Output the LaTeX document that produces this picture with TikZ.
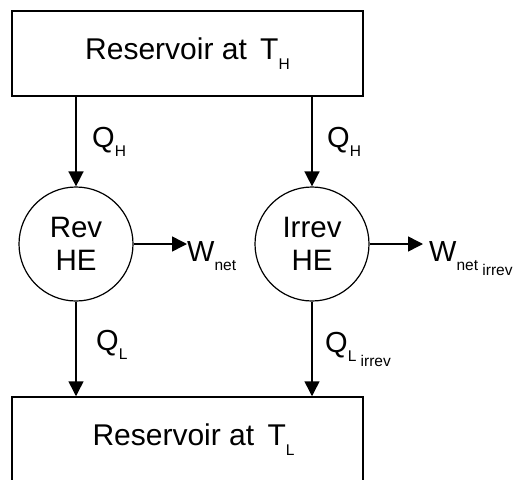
\documentclass[tikz,border=0pt]{standalone}
\usepackage{fontspec}
\setmainfont{Liberation Sans}
\usetikzlibrary{arrows.meta}

% lowered small index, nests for second level
\newcommand{\lo}[1]{\raisebox{-0.6ex}{\fontsize{15.5}{15.5}\selectfont #1}}

\begin{document}
\begin{tikzpicture}[x=1pt, y=-1pt,
        res/.style={draw, line width=1.5pt, minimum width=351pt, minimum height=85pt, inner sep=0pt, font=\fontsize{30}{32}\selectfont},
        he/.style={draw, circle, line width=1.2pt, minimum size=114pt, inner sep=0pt, align=center, font=\fontsize{29.5}{33}\selectfont},
        lab/.style={anchor=base west, inner sep=0pt, font=\fontsize{29}{30}\selectfont},
        flow/.style={-{Triangle[length=15pt,width=15pt]}, line width=1.5pt}
    ]
    \useasboundingbox (0,0) rectangle (521,479);

    % reservoirs
    \node[res] (hot) at (187.5,53.5) {Reservoir at \,T\lo{H}};
    \node[res] (cold) at (187.5,439.5) {\hspace*{12pt}Reservoir at \,T\lo{L}};

    % engines
    \node[he] (rev) at (76,244) {Rev\\HE};
    \node[he] (irr) at (312,244) {Irrev\\HE};

    % labels
    \node[lab] (qhrev) at (92,147) {Q\lo{H}};
    \node[lab] (qhirr) at (327,147) {Q\lo{H}};
    \node[lab] (qlrev) at (96,350) {Q\lo{L}};
    \node[lab] (qlirr) at (325,352) {Q\lo{L\;\lo{irrev}}};
    \node[lab] (wrev) at (187,261) {W\lo{net}};
    \node[lab] (wirr) at (429,261) {W\lo{net\;\lo{irrev}}};

    % heat flows
    \draw[flow] (hot.south -| rev) -- (rev);
    \draw[flow] (hot.south -| irr) -- (irr);
    \draw[flow] (rev) -- (cold.north -| rev);
    \draw[flow] (irr) -- (cold.north -| irr);

    % work
    \draw[flow] (rev.east) -- (rev.east -| wrev.west);
    \draw[flow, shorten >=6pt] (irr.east) -- (irr.east -| wirr.west);

\end{tikzpicture}
\end{document}
